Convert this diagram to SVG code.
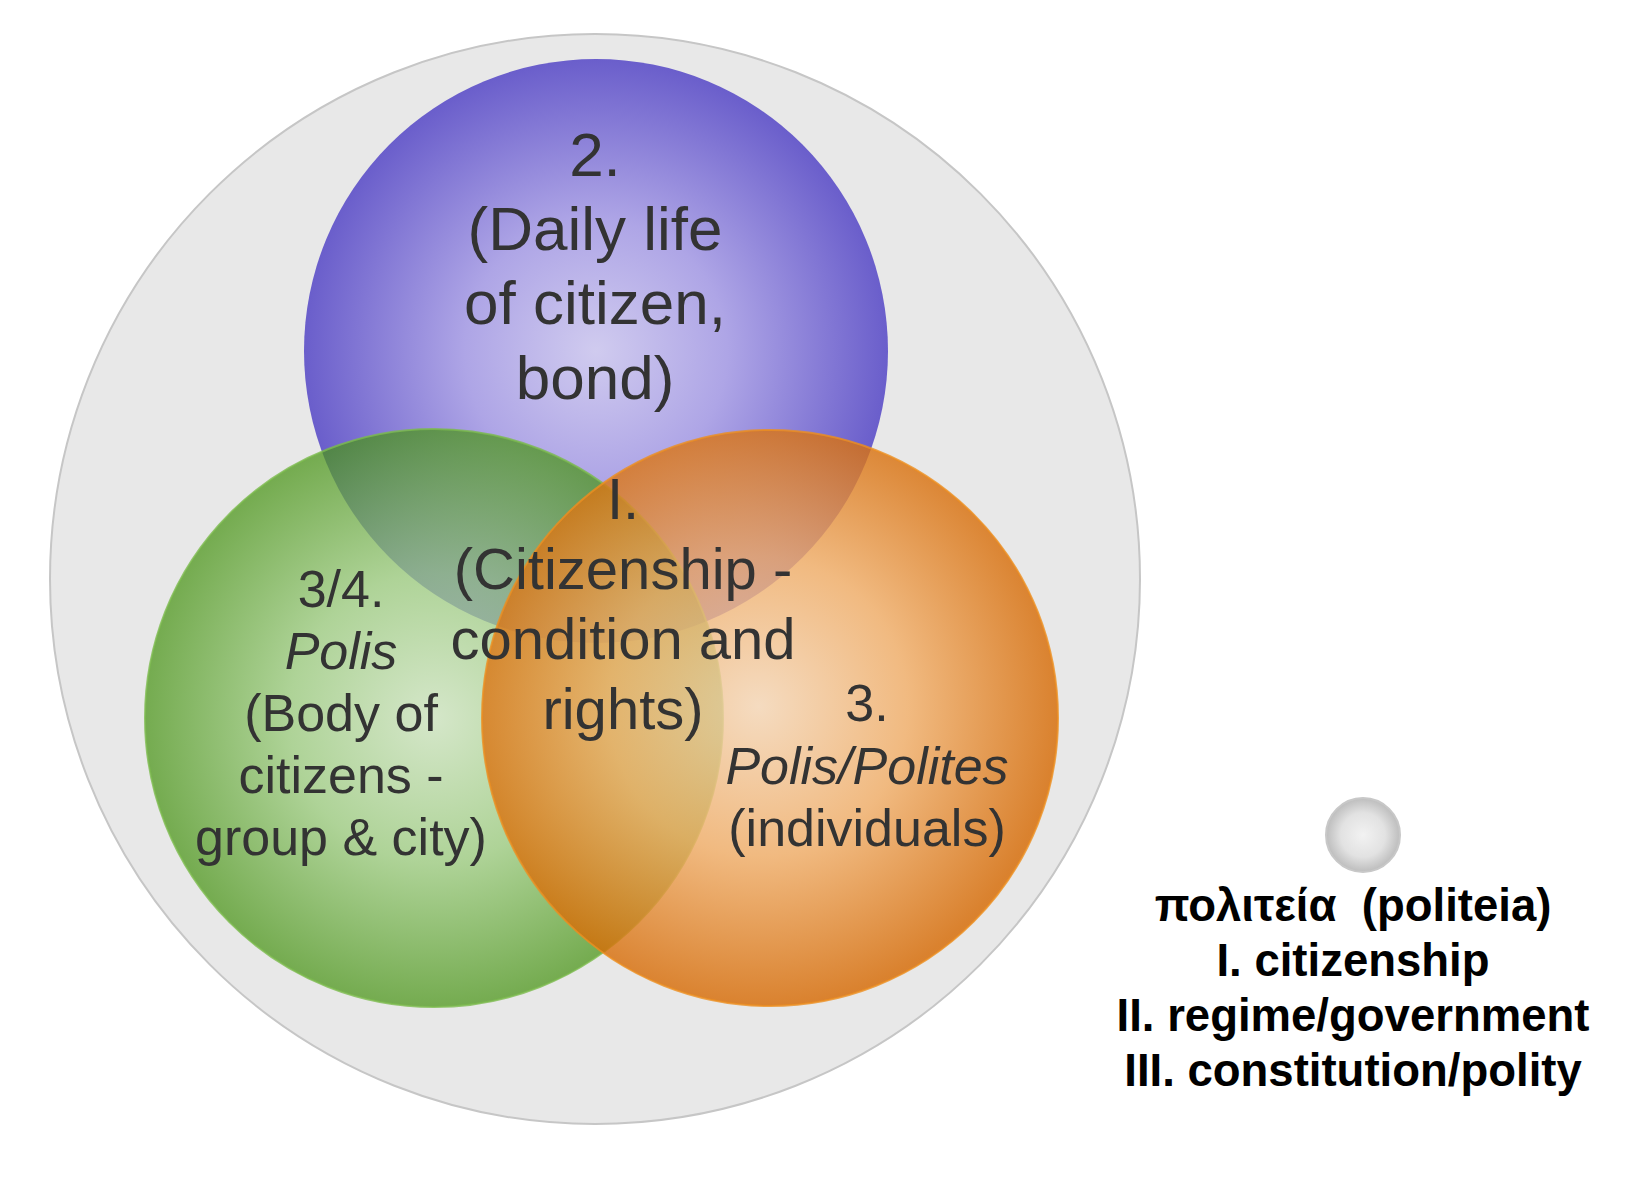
<svg xmlns="http://www.w3.org/2000/svg" width="1631" height="1178" viewBox="0 0 1631 1178">
  <defs>
    <radialGradient id="gPurple" cx="50%" cy="50%" r="50%">
      <stop offset="0" stop-color="#d0cbef"/>
      <stop offset="0.45" stop-color="#aea5e6"/>
      <stop offset="1" stop-color="#6a5ecb"/>
    </radialGradient>
    <radialGradient id="gGreen" cx="50%" cy="50%" r="50%">
      <stop offset="0" stop-color="#cde6bd"/>
      <stop offset="0.5" stop-color="#98cb78"/>
      <stop offset="1" stop-color="#489415"/>
    </radialGradient>
    <radialGradient id="gOrange" cx="48%" cy="48%" r="52%">
      <stop offset="0" stop-color="#f8d8b6"/>
      <stop offset="0.5" stop-color="#f3ae66"/>
      <stop offset="1" stop-color="#d66800"/>
    </radialGradient>
    <radialGradient id="gSmall" cx="50%" cy="50%" r="50%">
      <stop offset="0" stop-color="#f2f2f2"/>
      <stop offset="0.6" stop-color="#e2e2e2"/>
      <stop offset="1" stop-color="#bdbdbd"/>
    </radialGradient>
  </defs>
  <style>
    .lbl { font-family: "Liberation Sans", Arial, sans-serif; fill: #333333; text-anchor: middle; }
    .big { font-size: 62px; }
    .mid { font-size: 58px; }
    .sm { font-size: 52px; }
    .it { font-style: italic; }
    .leg { font-family: "Liberation Sans", Arial, sans-serif; font-weight: bold; font-size: 45.5px; fill: #000000; text-anchor: middle; }
  </style>
  <rect x="0" y="0" width="1631" height="1178" fill="#ffffff"/>

  <g id="outer">
    <circle cx="595" cy="579" r="545" fill="#e8e8e8" stroke="#c6c6c6" stroke-width="2"/>
  </g>

  <g id="node-daily-life">
    <circle cx="596" cy="351" r="292" fill="url(#gPurple)"/>
    <text class="lbl big" x="595" y="176">2.</text>
    <text class="lbl big" x="595" y="250">(Daily life</text>
    <text class="lbl big" x="595" y="324">of citizen,</text>
    <text class="lbl big" x="595" y="399">bond)</text>
  </g>

  <g id="node-polis-body">
    <circle cx="434" cy="718" r="289" fill="url(#gGreen)" fill-opacity="0.72" stroke="#7cba4e" stroke-width="2" stroke-opacity="0.8"/>
  </g>

  <g id="node-polis-polites">
    <circle cx="770" cy="718" r="288" fill="url(#gOrange)" fill-opacity="0.8" stroke="#ec8f20" stroke-width="2" stroke-opacity="0.8"/>
  </g>

  <g id="labels-green">
    <text class="lbl sm" x="341" y="607">3/4.</text>
    <text class="lbl sm it" x="341" y="669">Polis</text>
    <text class="lbl sm" x="341" y="731">(Body of</text>
    <text class="lbl sm" x="341" y="793">citizens -</text>
    <text class="lbl sm" x="341" y="855">group &amp; city)</text>
  </g>

  <g id="labels-orange">
    <text class="lbl sm" x="867" y="721">3.</text>
    <text class="lbl sm it" x="867" y="784">Polis/Polites</text>
    <text class="lbl sm" x="867" y="846">(individuals)</text>
  </g>

  <g id="node-citizenship">
    <text class="lbl mid" x="623" y="519">I.</text>
    <text class="lbl mid" x="623" y="589">(Citizenship -</text>
    <text class="lbl mid" x="623" y="659">condition and</text>
    <text class="lbl mid" x="623" y="729">rights)</text>
  </g>

  <g id="legend">
    <circle cx="1363" cy="835" r="37" fill="url(#gSmall)" stroke="#c8c8c8" stroke-width="2"/>
    <text class="leg" x="1353" y="921">πολιτεία&#160; (politeia)</text>
    <text class="leg" x="1353" y="976">I. citizenship</text>
    <text class="leg" x="1353" y="1031">II. regime/government</text>
    <text class="leg" x="1353" y="1086">III. constitution/polity</text>
  </g>

  <g id="connectors"></g>
</svg>
